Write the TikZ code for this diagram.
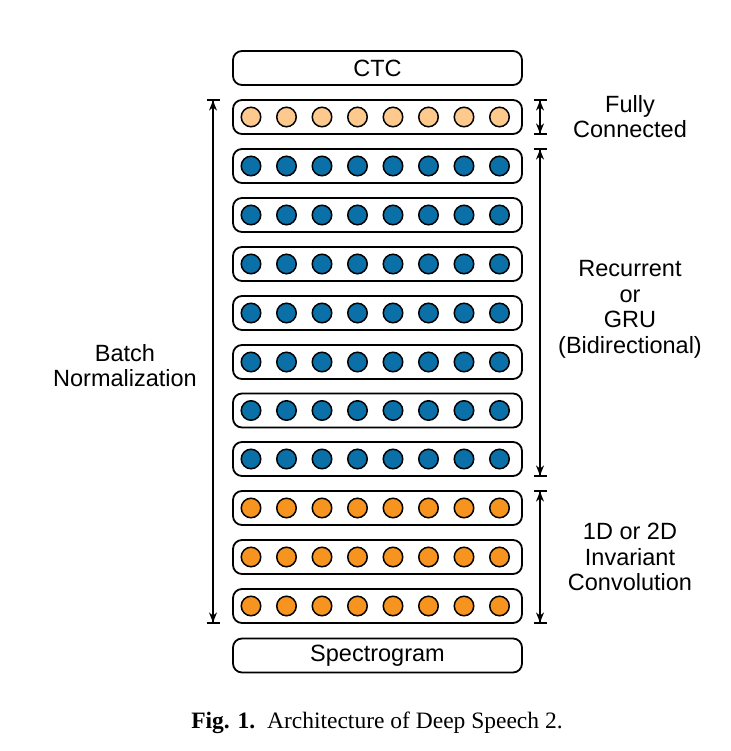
\documentclass[tikz,border=0pt]{standalone}
\usepackage{fontspec}
\setmainfont{Liberation Serif}
\newfontfamily\diagfont{Liberation Sans}
\usetikzlibrary{arrows.meta}
\definecolor{fcpeach}{HTML}{FDC98D}
\definecolor{rnnblue}{HTML}{0B70A8}
\definecolor{convorange}{HTML}{F7941F}
\begin{document}
\begin{tikzpicture}[x=1pt,y=-1pt,
  layerbox/.style={draw, line width=1.8pt, rounded corners=9pt, minimum width=289pt, minimum height=34pt, inner sep=0pt},
  unit/.style={draw, line width=1.5pt, circle, minimum size=19.5pt, inner sep=0pt},
  lbl/.style={font=\diagfont\fontsize{23.5}{25.6}\selectfont, align=center},
  dim/.style={line width=1.5pt, {Bar[width=13pt]Stealth[length=10pt,width=8pt]}-{Stealth[length=10pt,width=8pt]Bar[width=13pt]}}
]
\useasboundingbox (0,0) rectangle (730,751);
\node[layerbox, lbl] (ctc) at (377.5,68) {CTC};
\foreach \i/\y/\c in {1/117/fcpeach,2/166/rnnblue,3/215/rnnblue,4/264/rnnblue,5/313/rnnblue,6/362/rnnblue,7/410.5/rnnblue,8/459/rnnblue,9/508/convorange,10/557/convorange,11/606/convorange}{
  \node[layerbox] (L\i) at (377.5,\y) {};
  \foreach \j in {1,...,8}
    \node[unit, fill=\c] (L\i-\j) at ({251+(\j-1)*35.5},\y) {};
}
\node[layerbox, lbl] (spec) at (377.5,655.5) {Spectrogram};
\coordinate (bnx) at (213,0);
\coordinate (rx) at (540,0);
\draw[dim] (L1.north -| bnx) -- (L11.south -| bnx);
\draw[dim] (L1.north -| rx) -- (L1.south -| rx);
\draw[dim] (L2.north -| rx) -- (L8.south -| rx);
\draw[dim] (L9.north -| rx) -- (L11.south -| rx);
\node[lbl] (bnlbl) at (125,365.5) {Batch\\Normalization};
\node[lbl] (fclbl) at (630,116.5) {Fully\\Connected};
\node[lbl] (rnnlbl) at (630,309.5) {Recurrent\\or\\GRU\\(Bidirectional)};
\node[lbl] (convlbl) at (630,557) {1D or 2D\\Invariant\\Convolution};
\node[font=\fontsize{23.5}{27}\selectfont] (cap) at (377,723) {\textbf{Fig. 1.}\ \ Architecture of Deep Speech 2.};
\end{tikzpicture}
\end{document}
